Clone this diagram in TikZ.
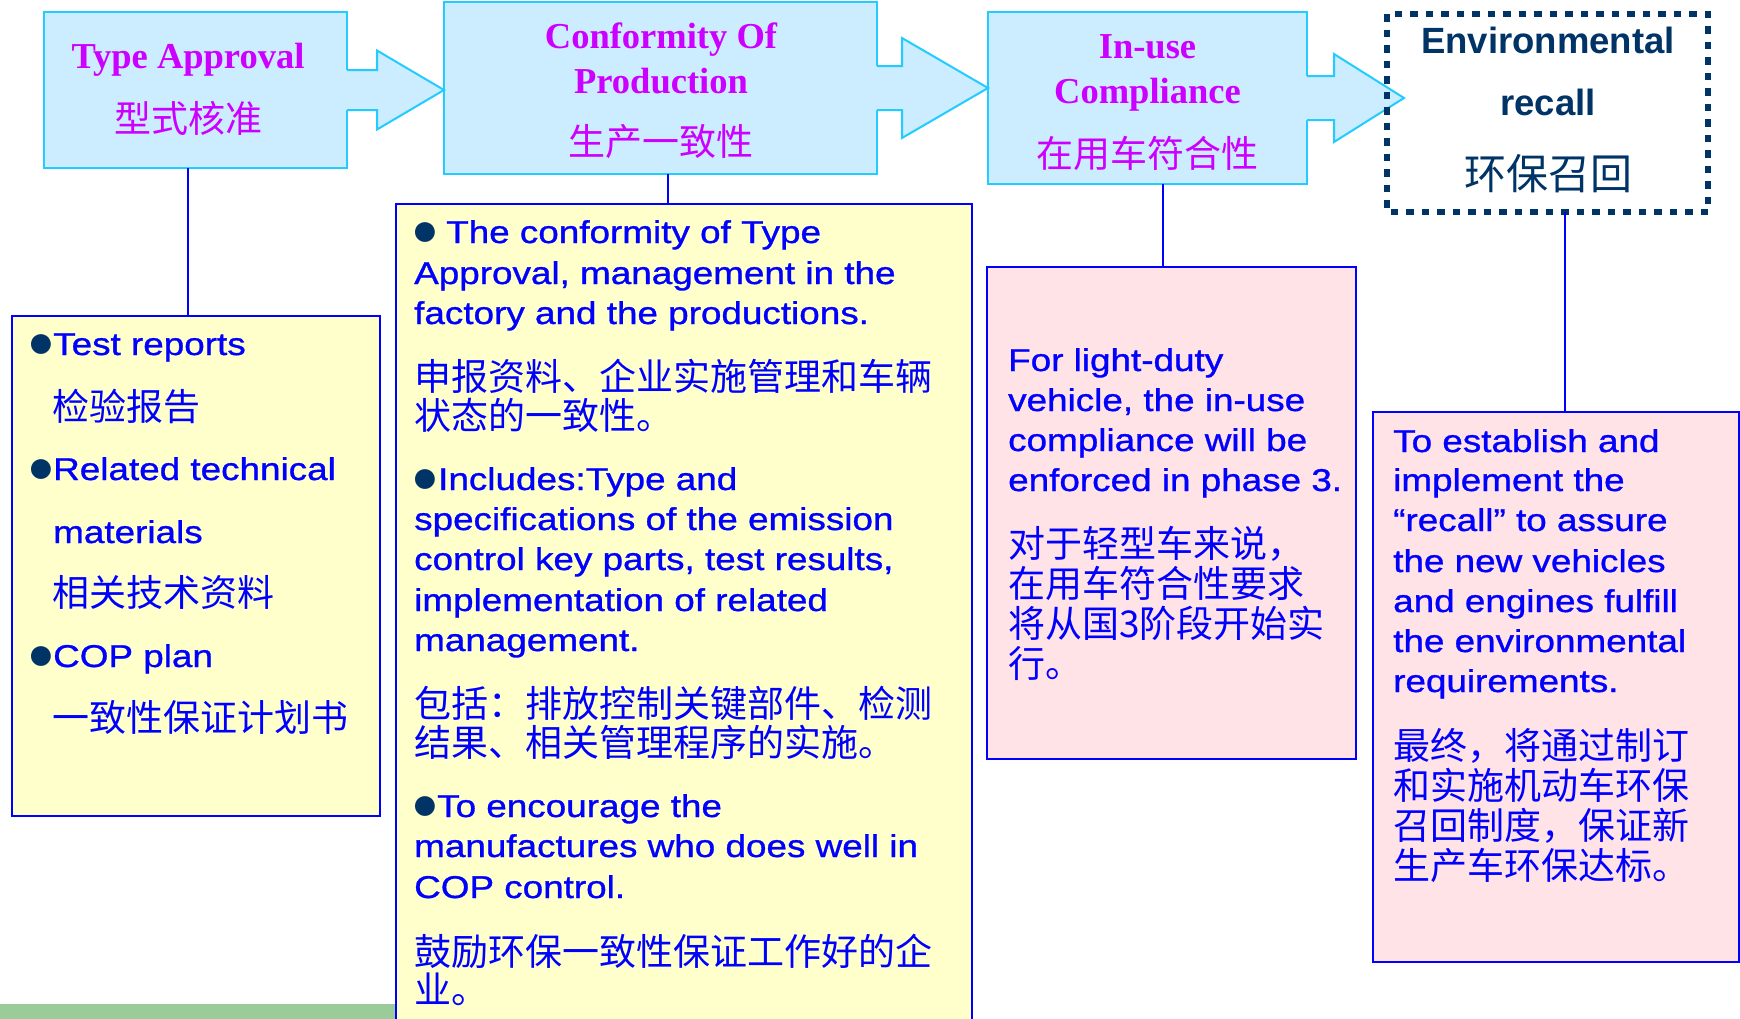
\documentclass[tikz,border=0pt]{standalone}
\usepackage{fontspec}
\setmainfont{Liberation Serif}
\newfontfamily\arialw[FakeStretch=1.17,FakeBold=1.0]{Liberation Sans}
\newfontfamily\arialn{Liberation Sans}
\newfontfamily\cjk{Noto Sans CJK SC}
\usetikzlibrary{calc}
\definecolor{topfill}{HTML}{CCECFF}
\definecolor{topline}{HTML}{22CCFF}
\definecolor{magtext}{HTML}{CC00FF}
\definecolor{navy}{HTML}{003366}
\definecolor{bluetext}{HTML}{0000FF}
\definecolor{yellowfill}{HTML}{FFFFCC}
\definecolor{pinkfill}{HTML}{FFE3E6}
\definecolor{greenbar}{HTML}{99CC99}
\newcommand\blockarrow[6]{%
  \fill[topfill] ($(#1.east)+(-3,-#4)$) -- ($(#1.east)+(#3,-#4)$) -- ($(#1.east)+(#3,-#5)$)
     -- ($(#2.west |- #1.east)+(#6,0)$) -- ($(#1.east)+(#3,#5)$) -- ($(#1.east)+(#3,#4)$)
     -- ($(#1.east)+(-3,#4)$) -- cycle;
  \draw[arrowline] ($(#1.east)+(0,-#4)$) -- ($(#1.east)+(#3,-#4)$) -- ($(#1.east)+(#3,-#5)$)
     -- ($(#2.west |- #1.east)+(#6,0)$) -- ($(#1.east)+(#3,#5)$) -- ($(#1.east)+(#3,#4)$)
     -- ($(#1.east)+(0,#4)$);
}
\begin{document}
\begin{tikzpicture}[x=1pt,y=-1pt,
  topbox/.style={draw=topline, fill=topfill, line width=2pt, inner sep=0pt, outer sep=0pt, anchor=north west},
  arrowline/.style={draw=topline, line width=2pt, line join=miter},
  lowbox/.style={draw=bluetext, line width=2.3pt, inner sep=0pt, outer sep=0pt, anchor=north west},
  conn/.style={draw=bluetext, line width=1.6pt},
  erline/.style={draw=navy, line width=6.5pt, dash pattern=on 7.5pt off 8pt},
  mag/.style={text=magtext, font=\bfseries\fontsize{36.5}{40}\selectfont, inner sep=0pt, anchor=base},
  magzh/.style={text=magtext, font=\cjk\fontsize{37}{40}\selectfont, inner sep=0pt, anchor=base},
  ertxt/.style={text=navy, font=\arialn\bfseries\fontsize{36.5}{40}\selectfont, inner sep=0pt, anchor=base},
  erzh/.style={text=navy, font=\cjk\fontsize{42}{44}\selectfont, inner sep=0pt, anchor=base},
  en/.style={text=bluetext, font=\arialw\fontsize{31.5}{40}\selectfont, inner sep=0pt, anchor=base west},
  zh/.style={text=bluetext, font=\cjk\fontsize{37}{40}\selectfont, inner sep=0pt, anchor=base west},
  bul/.style={text=navy, font=\arialn\fontsize{46}{46}\selectfont, inner sep=0pt, anchor=center}
]
\useasboundingbox (0,0) rectangle (1740,1018);
\clip (0,0) rectangle (1740,1018);
\fill[white] (0,0) rectangle (1740,1018);
\fill[greenbar] (0,1004) rectangle (400,1020);

% top row
\node[topbox, minimum width=303pt, minimum height=156pt] (ta) at (44,12) {};
\node[topbox, minimum width=433pt, minimum height=172pt] (cop) at (444,2) {};
\node[topbox, minimum width=319pt, minimum height=172pt] (iuc) at (988,12) {};
\node[inner sep=0pt, outer sep=0pt, anchor=north west, minimum width=321pt, minimum height=198pt] (er) at (1387,14) {};

\blockarrow{ta}{cop}{30}{20}{39.5}{0}
\blockarrow{cop}{iuc}{25}{22}{50}{0}
\blockarrow{iuc}{er}{27}{22}{44}{17}
\draw[erline] (er.north west) rectangle (er.south east);

\node[mag] (ta-t1) at (188,68) {Type Approval};
\node[magzh] (ta-t2) at (188,132) {型式核准};
\node[mag] (cop-t1) at (661,48) {Conformity Of};
\node[mag] (cop-t2) at (661,93) {Production};
\node[magzh] (cop-t3) at (661,155) {生产一致性};
\node[mag] (iuc-t1) at (1147.5,58) {In-use};
\node[mag] (iuc-t2) at (1147.5,103) {Compliance};
\node[magzh] (iuc-t3) at (1147.5,167) {在用车符合性};
\node[ertxt] (er-t1) at (1548,53) {Environmental};
\node[ertxt] (er-t2) at (1548,115) {recall};
\node[erzh] (er-t3) at (1548,189) {环保召回};

% lower boxes
\node[lowbox, fill=yellowfill, minimum width=368pt, minimum height=500pt] (boxa) at (12,316) {};
\node[lowbox, fill=yellowfill, minimum width=576pt, minimum height=840pt] (boxb) at (396,204) {};
\node[lowbox, fill=pinkfill, minimum width=369pt, minimum height=492pt] (boxc) at (987,267) {};
\node[lowbox, fill=pinkfill, minimum width=366pt, minimum height=550pt] (boxd) at (1373,412) {};

% connectors
\draw[conn] ([xshift=-7.5pt]ta.south) -- ([xshift=-7.5pt]ta.south |- boxa.north);
\draw[conn] ([xshift=7.5pt]cop.south) -- ([xshift=7.5pt]cop.south |- boxb.north);
\draw[conn] ([xshift=15.5pt]iuc.south) -- ([xshift=15.5pt]iuc.south |- boxc.north);
\draw[conn] ([xshift=17.5pt]er.south) -- ([xshift=17.5pt]er.south |- boxd.north);

% box A
\node[bul] (a-b1) at (41.5,346.5) {●};
\node[en] (a1) at (53,355) {Test reports};
\node[zh] (a2) at (52,420) {检验报告};
\node[bul] (a-b2) at (41.5,471.5) {●};
\node[en] (a3) at (53,480) {Related technical};
\node[en] (a4) at (53,543) {materials};
\node[zh] (a5) at (52,606) {相关技术资料};
\node[bul] (a-b3) at (41.5,658.5) {●};
\node[en] (a6) at (53,667) {COP plan};
\node[zh] (a7) at (52,731) {一致性保证计划书};

% box B
\node[bul] (b-b1) at (425.5,234.5) {●};
\node[en] (b1) at (446,243) {The conformity of Type};
\node[en] (b2) at (414,284) {Approval, management in the};
\node[en] (b3) at (414,324) {factory and the productions.};
\node[zh] (b4) at (414,390) {申报资料、企业实施管理和车辆};
\node[zh] (b5) at (414,429) {状态的一致性。};
\node[bul] (b-b2) at (425.5,481.5) {●};
\node[en] (b6) at (438,490) {Includes:Type and};
\node[en] (b7) at (414,530) {specifications of the emission};
\node[en] (b8) at (414,570) {control key parts, test results,};
\node[en] (b9) at (414,611) {implementation of related};
\node[en] (b10) at (414,651) {management.};
\node[zh] (b11) at (414,717) {包括：排放控制关键部件、检测};
\node[zh] (b12) at (414,756) {结果、相关管理程序的实施。};
\node[bul] (b-b3) at (425.5,808.5) {●};
\node[en] (b13) at (437,817) {To encourage the};
\node[en] (b14) at (414,857) {manufactures who does well in};
\node[en] (b15) at (414,898) {COP control.};
\node[zh] (b16) at (414,965) {鼓励环保一致性保证工作好的企};
\node[zh] (b17) at (414,1003) {业。};

% box C
\node[en] (c1) at (1008,371) {For light-duty};
\node[en] (c2) at (1008,411) {vehicle, the in-use};
\node[en] (c3) at (1008,451) {compliance will be};
\node[en] (c4) at (1008,491) {enforced in phase 3.};
\node[zh] (c5) at (1008,557) {对于轻型车来说，};
\node[zh] (c6) at (1008,597) {在用车符合性要求};
\node[zh] (c7) at (1008,637) {将从国3阶段开始实};
\node[zh] (c8) at (1008,677) {行。};

% box D
\node[en] (d1) at (1393,452) {To establish and};
\node[en] (d2) at (1393,491) {implement the};
\node[en] (d3) at (1393,531) {“recall” to assure};
\node[en] (d4) at (1393,572) {the new vehicles};
\node[en] (d5) at (1393,612) {and engines fulfill};
\node[en] (d6) at (1393,652) {the environmental};
\node[en] (d7) at (1393,692) {requirements.};
\node[zh] (d8) at (1393,759) {最终，将通过制订};
\node[zh] (d9) at (1393,799) {和实施机动车环保};
\node[zh] (d10) at (1393,839) {召回制度，保证新};
\node[zh] (d11) at (1393,879) {生产车环保达标。};
\end{tikzpicture}
\end{document}
